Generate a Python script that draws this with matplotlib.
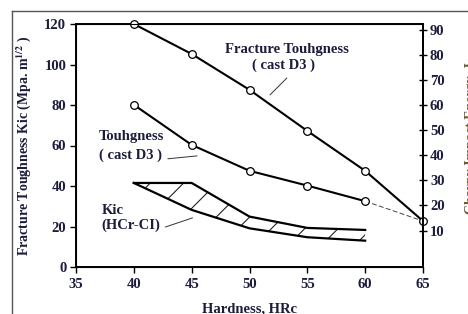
import matplotlib
matplotlib.use("Agg")
import matplotlib.pyplot as plt
from matplotlib.lines import Line2D

# ---- data ----
hardness_upper = [40, 45, 50, 55, 60, 65]
frac_tough_upper = [120, 105.2, 87.5, 67.2, 47.5, 22.7]

hardness_mid = [40, 45, 50, 55, 60]
tough_mid = [80.1, 60.3, 47.5, 40.2, 32.5]

hardness_link = [60, 65]
tough_link = [32.5, 22.7]

hardness_band = [40, 45, 50, 55, 60]
kic_band_upper = [41.5, 41.5, 24.9, 19.3, 18.3]
kic_band_lower = [41.5, 28.2, 19.1, 14.7, 13.0]

x_ticks = [35, 40, 45, 50, 55, 60, 65]
y_ticks = [0, 20, 40, 60, 80, 100, 120]
y2_ticks = [10, 20, 30, 40, 50, 60, 70, 80, 90]

# ---- style ----
serif = ["Liberation Serif", "DejaVu Serif"]
plt.rcParams["font.family"] = serif
plt.rcParams["font.weight"] = "bold"
plt.rcParams["mathtext.fontset"] = "stix"
plt.rcParams["hatch.linewidth"] = 0.8
txtc = "#1c1c3c"
fs = 10.5

W, H = 468, 314
fig = plt.figure(figsize=(W / 100, H / 100), dpi=100)
ax = fig.add_axes([76 / W, 1 - 267 / H, (423 - 76) / W, (267 - 24) / H])

ax.plot(hardness_upper, frac_tough_upper, color="black", lw=1.5,
        marker="o", ms=5.5, mfc="white", mec="black", mew=0.9, zorder=4, clip_on=False)
ax.plot(hardness_mid, tough_mid, color="black", lw=1.5,
        marker="o", ms=5.5, mfc="white", mec="black", mew=0.9, zorder=4, clip_on=False)
ax.plot(hardness_link, tough_link, color="#444444", lw=0.7, ls=(0, (5, 2.5)), zorder=3)

ax.fill_between(hardness_band, kic_band_lower, kic_band_upper, facecolor="none",
                edgecolor="#222222", hatch="/", lw=0)
ax.plot(hardness_band, kic_band_upper, color="black", lw=1.6)
ax.plot(hardness_band, kic_band_lower, color="black", lw=1.6)

ax.set_xlim(35, 65)
ax.set_ylim(0, 120)
ax.set_xticks(x_ticks)
ax.set_yticks(y_ticks)
ax.tick_params(axis="both", direction="out", length=4, width=1, labelsize=fs,
               labelcolor=txtc, pad=3)
ax.tick_params(axis="x", pad=4)
for s in ax.spines.values():
    s.set_linewidth(1.4)
ax.set_xlabel("Hardness, HRc", fontsize=fs, fontweight="bold", color=txtc, labelpad=8)
ax.set_ylabel(r"Fracture Toughness Kic (Mpa. m$^{\mathbf{1/2}}$ )", fontsize=10,
              fontweight="bold", color=txtc, labelpad=8)

ax2 = ax.twinx()
ax2.set_ylim(-4.5, 92.3)
ax2.set_yticks(y2_ticks)
ax2.tick_params(axis="y", direction="inout", length=6, width=1, labelsize=fs,
                labelcolor=txtc, pad=2)
ax2.spines["right"].set_linewidth(1.4)
ax2.set_ylabel("Charpy Impact Energy, J", fontsize=10, fontweight="bold",
               color="#6b5a3a", rotation=90, labelpad=15)
ax2.yaxis.label.set_y(0.53)

# annotations
ax.text(53.2, 107.5, "Fracture Touhgness", ha="center", va="center", fontsize=fs,
        color=txtc, fontweight="bold")
ax.text(52.9, 99.7, "( cast D3 )", ha="center", va="center", fontsize=fs,
        color=txtc, fontweight="bold")
ax.annotate("", xy=(51.6, 84.0), xytext=(53.4, 94.3),
            arrowprops=dict(arrowstyle="-", color="#333333", lw=0.7))

ax.text(37.0, 64.2, "Touhgness", ha="left", va="center", fontsize=fs,
        color=txtc, fontweight="bold")
ax.text(37.0, 55.3, "( cast D3 )", ha="left", va="center", fontsize=fs,
        color=txtc, fontweight="bold")
ax.annotate("", xy=(45.7, 55.0), xytext=(42.7, 53.3),
            arrowprops=dict(arrowstyle="-", color="#333333", lw=0.7))

ax.text(37.2, 28.1, "Kic", ha="left", va="center", fontsize=fs,
        color=txtc, fontweight="bold")
ax.text(37.2, 20.7, "(HCr-CI)", ha="left", va="center", fontsize=fs,
        color=txtc, fontweight="bold")
ax.annotate("", xy=(45.3, 24.7), xytext=(42.5, 19.3),
            arrowprops=dict(arrowstyle="-", color="#333333", lw=0.7))

# outer frame of scanned figure
fig.add_artist(Line2D([12 / W, 1.0], [1 - 11 / H, 1 - 11 / H], color="#555555", lw=1.0,
                      transform=fig.transFigure))
fig.add_artist(Line2D([12 / W, 12 / W], [0, 1 - 11 / H], color="#555555", lw=1.0,
                      transform=fig.transFigure))

fig.savefig("out.png", dpi=100)
